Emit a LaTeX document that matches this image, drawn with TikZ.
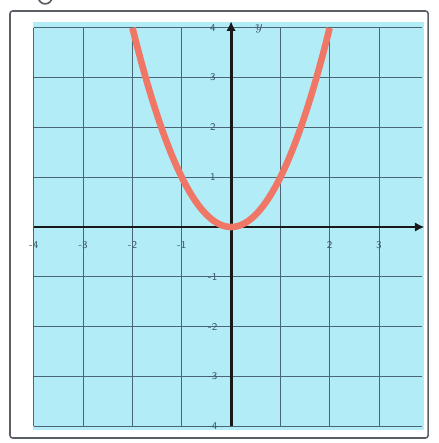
\documentclass[tikz,border=0pt]{standalone}
\usepackage{tikz}
\usetikzlibrary{arrows.meta}
\definecolor{paper}{HTML}{B2ECF7}
\definecolor{gridline}{HTML}{4A6676}
\definecolor{curve}{HTML}{F07766}
\definecolor{frame}{HTML}{5A5F66}
\definecolor{ticktext}{HTML}{3E5666}

\begin{document}
\begin{tikzpicture}[x=1cm, y=1.01cm,
    tick/.style={font=\fontsize{6}{7}\sffamily, text=ticktext, inner sep=1pt}]
\useasboundingbox (-4.686,-4.337) rectangle (4.199,4.558);
% Frame and paper
\draw[frame, line width=1pt] (-3.77,4.62) circle (0.14);
\draw[frame, line width=0.9pt, rounded corners=1.5pt] (-4.483,-4.237) rectangle (3.996,4.337);
\fill[paper] (-4.016,-4.076) rectangle (3.915,4.116);
% Grid
\foreach \k in {-4,...,4}{
    \draw[gridline, line width=0.5pt] (-4,\k) -- (3.88,\k);
}
\foreach \k in {-4,...,3}{
    \draw[gridline, line width=0.5pt] (\k,-4) -- (\k,4);
}
% Axes
\draw[black!90, line width=1.7pt, -{Latex[length=5.5pt,width=5.5pt]}] (-4,0) -- (3.92,0);
\draw[black!90, line width=1.7pt, -{Latex[length=5.5pt,width=5.5pt]}] (0,-4) -- (0,4.13);
\node[tick, font=\fontsize{8}{9}\selectfont\itshape] (ylab) at (0.55,3.97) {y};
% Tick labels
\foreach \i/\lab in {-4/-4, -3/-3, -2/-2, -1/-1, 2/2, 3/3}{
    \node[tick] (xt\i) at (\i,-0.36) {\lab};
}
\foreach \i/\lab in {4/4, 3/3, 2/2, 1/1, -1/-1, -2/-2, -3/-3, -4/-4}{
    \node[tick] (yt\i) at (-0.37,\i) {\lab};
}
% Parabola
\draw[curve, line width=3.8pt, line cap=butt] plot[domain=-2:2, samples=81, smooth] (\x,{\x*\x});
\end{tikzpicture}
\end{document}
